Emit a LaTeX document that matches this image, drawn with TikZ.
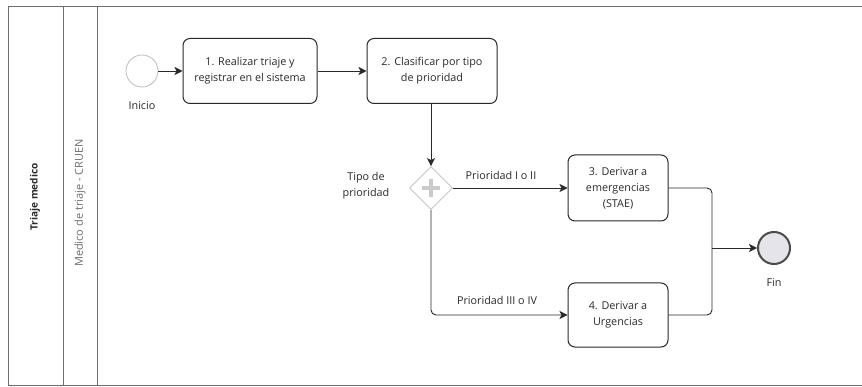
\documentclass[tikz,border=0pt]{standalone}
\usepackage{fontspec}
\setmainfont{Open Sans}
\usetikzlibrary{arrows.meta,shapes.geometric}
\definecolor{ink}{HTML}{2A2A2A}
\definecolor{lanegray}{HTML}{6E6E6E}
\definecolor{softgray}{HTML}{BDBDBD}
\definecolor{endfill}{HTML}{E4E4EA}
\tikzset{
  task/.style={draw=ink, line width=1pt, rounded corners=7pt, minimum width=134pt,
    minimum height=65pt, align=center, text=ink, inner sep=2pt, font=\fontsize{10.8}{16}\selectfont},
  smalltask/.style={task, minimum width=100pt},
  flow/.style={draw=ink, line width=0.9pt, -{Stealth[length=8pt,width=8pt,inset=2pt]}},
  seg/.style={draw=ink, line width=0.9pt},
  lbl/.style={text=ink, align=center, font=\fontsize{10.8}{16}\selectfont},
  lane/.style={draw=lanegray, line width=0.8pt}
}
\begin{document}
\begin{tikzpicture}[x=1pt,y=-1pt]
\useasboundingbox (0,0) rectangle (862,387);
\fill[white] (0,0) rectangle (862,387);

% pool and lane frame
\draw[lane] (862,6) -- (8,6) -- (8,385) -- (862,385);
\draw[lane] (63,6) -- (63,385);
\draw[lane] (97,6) -- (97,385);
\node[rotate=90, text=ink, font=\fontsize{10}{12}\selectfont\bfseries] (pool) at (35,197) {Triaje medico};
\node[rotate=90, text=lanegray, font=\fontsize{11}{13}\selectfont] (lanelbl) at (80,203) {Medico de triaje - CRUEN};

% events
\node[circle, draw=softgray, line width=0.8pt, minimum size=32pt, inner sep=0pt] (start) at (142,71) {};
\node[lbl] (startlbl) at (142,106) {Inicio};
\node[circle, draw=ink!85, fill=endfill, line width=2pt, minimum size=32pt, inner sep=0pt] (fin) at (774,248) {};
\node[lbl] (finlbl) at (774,283) {Fin};

% tasks
\node[task] (t1) at (250,71) {1. Realizar triaje y\\registrar en el sistema};
\node[task, minimum width=130pt] (t2) at (432,71) {2. Clasificar por tipo\\de prioridad};
\node[smalltask, minimum height=66pt] (t3) at (618,188) {3. Derivar a\\emergencias\\(STAE)};
\node[smalltask, minimum height=64pt] (t4) at (618,315) {4. Derivar a\\Urgencias};

% parallel gateway
\node[diamond, draw=softgray, fill=white, line width=0.8pt, minimum size=43pt, inner sep=0pt] (gw) at (431,188) {};
\draw[softgray!80, line width=4pt] (431,179) -- (431,197) (422,188) -- (440,188);
\node[lbl] (gwlbl) at (366,186) {Tipo de\\prioridad};

% sequence flows
\draw[flow] (start) -- (t1);
\draw[flow] (t1) -- (t2);
\draw[flow] (t2.south -| gw.north) -- (gw.north);
\draw[flow] (gw.east) -- (t3.west);
\node[lbl] (p12) at (501,175) {Prioridad I o II};
\draw[flow, rounded corners=5pt] (gw.south) |- (t4.west);
\node[lbl] (p34) at (497,300) {Prioridad III o IV};

\coordinate (merge) at (712,248);
\draw[seg, rounded corners=5pt] (t3.east) -| (merge);
\draw[seg, rounded corners=5pt] (t4.east) -| (merge);
\draw[flow] (merge) -- (fin);
\end{tikzpicture}
\end{document}
